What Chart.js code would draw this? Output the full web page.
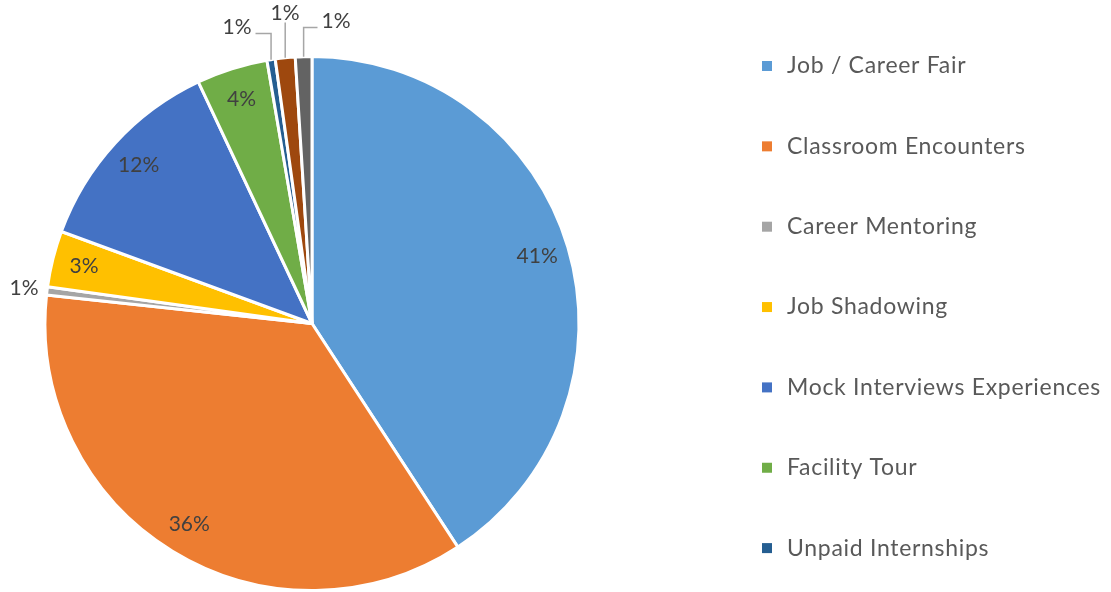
<!DOCTYPE html>
<html>
<head>
<meta charset="utf-8">
<script src="https://cdn.jsdelivr.net/npm/chart.js@4.4.1/dist/chart.umd.min.js"></script>
<style>
  html, body { margin: 0; padding: 0; background: #fff; }
  #wrap { width: 1111px; height: 592px; }
</style>
</head>
<body>
<div id="wrap"><canvas id="myChart" width="1111" height="592"></canvas></div>
<script>
// data (percent of total)
var categories = [
    'Job / Career Fair',
    'Classroom Encounters',
    'Career Mentoring',
    'Job Shadowing',
    'Mock Interviews Experiences',
    'Facility Tour',
    'Unpaid Internships',
    'Paid Internships',
    'Other'
];
var shares = [40.8, 35.9, 0.5, 3.4, 12.4, 4.3, 0.5, 1.2, 1.0];
var colors = ['#5B9BD5', '#ED7D31', '#A5A5A5', '#FFC000', '#4472C4', '#70AD47', '#255E91', '#9E480E', '#636363'];

var FONT = 'Lato, "Open Sans", sans-serif';

// labels of the thin slices sit outside the pie, offset from the centre
var outsideLabels = {
    2: {dx: -288, dy: -35, leader: false},
    6: {dx: -75, dy: -296, leader: true},
    7: {dx: -27, dy: -310, leader: true},
    8: {dx: 24, dy: -302, leader: true}
};

var pctLabels = {
    id: 'pctLabels',
    afterDatasetsDraw: function(chart) {
        var ctx = chart.ctx;
        var meta = chart.getDatasetMeta(0);
        var total = shares.reduce(function(a, b) { return a + b; }, 0);
        ctx.save();
        ctx.font = '21px ' + FONT;
        ctx.fillStyle = '#404040';
        ctx.textAlign = 'center';
        ctx.textBaseline = 'middle';
        meta.data.forEach(function(arc, i) {
            var p = arc.getProps(['x', 'y', 'startAngle', 'endAngle', 'outerRadius'], true);
            var mid = (p.startAngle + p.endAngle) / 2;
            var txt = Math.round(shares[i] / total * 100) + '%';
            var o = outsideLabels[i];
            if (!o) {
                var r = p.outerRadius * 0.88;
                ctx.fillText(txt, p.x + Math.cos(mid) * r, p.y + Math.sin(mid) * r);
                return;
            }
            var lx = p.x + o.dx, ly = p.y + o.dy;
            ctx.fillText(txt, lx, ly);
            if (o.leader) {
                var ax = p.x + Math.cos(mid) * p.outerRadius;
                var ay = p.y + Math.sin(mid) * p.outerRadius;
                var half = ctx.measureText(txt).width / 2;
                ctx.strokeStyle = '#A6A6A6';
                ctx.lineWidth = 1.5;
                ctx.beginPath();
                ctx.moveTo(ax, ay);
                if (Math.abs(lx - ax) > half) {
                    var ey = ly + 6;
                    ctx.lineTo(ax, ey);
                    ctx.lineTo(lx > ax ? lx - half - 4 : lx + half + 4, ey);
                } else {
                    ctx.lineTo(ax, ly + 9);
                }
                ctx.stroke();
            }
        });
        ctx.restore();
    }
};

// legend on the right: only the items that fit are drawn, as in the picture
var sideLegend = {
    id: 'sideLegend',
    afterDraw: function(chart) {
        var ctx = chart.ctx;
        ctx.save();
        ctx.font = '23px ' + FONT;
        ctx.letterSpacing = '0.7px';
        ctx.textBaseline = 'middle';
        ctx.textAlign = 'left';
        for (var i = 0; i < categories.length; i++) {
            var y = 66 + i * 80.35;
            if (y + 12 > chart.height) break;
            ctx.fillStyle = colors[i];
            ctx.fillRect(762, y - 5, 10, 10);
            ctx.fillStyle = '#595959';
            ctx.fillText(categories[i], 787, y);
        }
        ctx.restore();
    }
};

var ctx = document.getElementById('myChart');
var myChart = new Chart(ctx, {
    type: 'pie',
    data: {
        labels: categories,
        datasets: [{
            data: shares,
            backgroundColor: colors,
            borderColor: '#FFFFFF',
            borderWidth: 3
        }]
    },
    options: {
        responsive: false,
        animation: false,
        events: [],
        layout: {
            padding: {left: 43, top: 55, right: 530, bottom: 0}
        },
        plugins: {
            legend: {display: false},
            tooltip: {enabled: false}
        }
    },
    plugins: [pctLabels, sideLegend]
});
</script>
</body>
</html>
